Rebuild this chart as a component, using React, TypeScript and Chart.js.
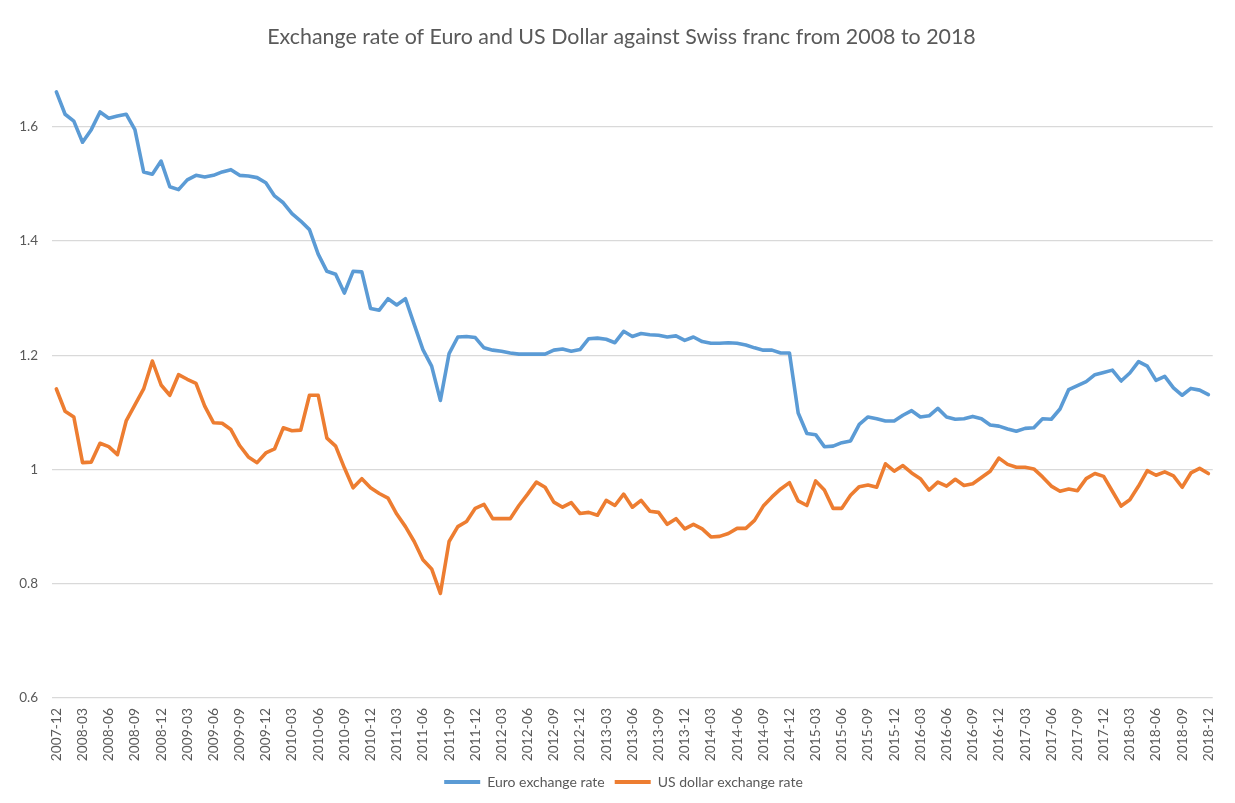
import React, { useEffect, useRef } from "react";
import { Chart, registerables } from "chart.js";

Chart.register(...registerables);

const title = "Exchange rate of Euro and US Dollar against Swiss franc from 2008 to 2018";

const months: string[] = [
  "2007-12",
  "2008-01", "2008-02", "2008-03", "2008-04", "2008-05", "2008-06", "2008-07", "2008-08", "2008-09", "2008-10", "2008-11", "2008-12",
  "2009-01", "2009-02", "2009-03", "2009-04", "2009-05", "2009-06", "2009-07", "2009-08", "2009-09", "2009-10", "2009-11", "2009-12",
  "2010-01", "2010-02", "2010-03", "2010-04", "2010-05", "2010-06", "2010-07", "2010-08", "2010-09", "2010-10", "2010-11", "2010-12",
  "2011-01", "2011-02", "2011-03", "2011-04", "2011-05", "2011-06", "2011-07", "2011-08", "2011-09", "2011-10", "2011-11", "2011-12",
  "2012-01", "2012-02", "2012-03", "2012-04", "2012-05", "2012-06", "2012-07", "2012-08", "2012-09", "2012-10", "2012-11", "2012-12",
  "2013-01", "2013-02", "2013-03", "2013-04", "2013-05", "2013-06", "2013-07", "2013-08", "2013-09", "2013-10", "2013-11", "2013-12",
  "2014-01", "2014-02", "2014-03", "2014-04", "2014-05", "2014-06", "2014-07", "2014-08", "2014-09", "2014-10", "2014-11", "2014-12",
  "2015-01", "2015-02", "2015-03", "2015-04", "2015-05", "2015-06", "2015-07", "2015-08", "2015-09", "2015-10", "2015-11", "2015-12",
  "2016-01", "2016-02", "2016-03", "2016-04", "2016-05", "2016-06", "2016-07", "2016-08", "2016-09", "2016-10", "2016-11", "2016-12",
  "2017-01", "2017-02", "2017-03", "2017-04", "2017-05", "2017-06", "2017-07", "2017-08", "2017-09", "2017-10", "2017-11", "2017-12",
  "2018-01", "2018-02", "2018-03", "2018-04", "2018-05", "2018-06", "2018-07", "2018-08", "2018-09", "2018-10", "2018-11", "2018-12",
];

const euroRate: number[] = [
  1.661,
  1.622, 1.610, 1.573, 1.595, 1.626, 1.615, 1.619, 1.622, 1.595, 1.521, 1.517, 1.540,
  1.495, 1.490, 1.507, 1.515, 1.512, 1.515, 1.521, 1.525, 1.515, 1.514, 1.511, 1.502,
  1.479, 1.467, 1.448, 1.435, 1.420, 1.377, 1.347, 1.342, 1.309, 1.347, 1.346, 1.282,
  1.279, 1.299, 1.288, 1.299, 1.254, 1.210, 1.181, 1.121, 1.203, 1.232, 1.233, 1.231,
  1.213, 1.209, 1.207, 1.204, 1.202, 1.202, 1.202, 1.202, 1.209, 1.211, 1.207, 1.210,
  1.229, 1.230, 1.228, 1.222, 1.242, 1.233, 1.238, 1.236, 1.235, 1.232, 1.234, 1.226,
  1.232, 1.224, 1.221, 1.221, 1.222, 1.221, 1.218, 1.213, 1.209, 1.209, 1.204, 1.204,
  1.099, 1.063, 1.061, 1.040, 1.041, 1.047, 1.050, 1.079, 1.092, 1.089, 1.085, 1.085,
  1.095, 1.103, 1.092, 1.094, 1.107, 1.092, 1.088, 1.089, 1.093, 1.089, 1.078, 1.076,
  1.071, 1.067, 1.072, 1.073, 1.089, 1.088, 1.106, 1.140, 1.147, 1.154, 1.166, 1.170,
  1.174, 1.155, 1.169, 1.189, 1.181, 1.156, 1.163, 1.143, 1.130, 1.142, 1.139, 1.131,
];

const usdRate: number[] = [
  1.141,
  1.102, 1.092, 1.012, 1.013, 1.046, 1.040, 1.026, 1.085, 1.113, 1.141, 1.190, 1.148,
  1.130, 1.166, 1.158, 1.151, 1.111, 1.082, 1.081, 1.070, 1.042, 1.022, 1.012, 1.029,
  1.036, 1.073, 1.068, 1.069, 1.130, 1.130, 1.055, 1.041, 1.003, 0.968, 0.984, 0.968,
  0.958, 0.950, 0.922, 0.900, 0.874, 0.842, 0.826, 0.783, 0.874, 0.900, 0.909, 0.932,
  0.939, 0.914, 0.914, 0.914, 0.937, 0.957, 0.978, 0.969, 0.943, 0.934, 0.942, 0.923,
  0.925, 0.920, 0.946, 0.937, 0.957, 0.934, 0.946, 0.927, 0.925, 0.904, 0.914, 0.896,
  0.904, 0.896, 0.882, 0.883, 0.888, 0.897, 0.897, 0.911, 0.936, 0.952, 0.966, 0.977,
  0.945, 0.937, 0.980, 0.964, 0.932, 0.932, 0.955, 0.970, 0.973, 0.969, 1.010, 0.997,
  1.007, 0.994, 0.984, 0.964, 0.978, 0.971, 0.983, 0.972, 0.975, 0.986, 0.997, 1.020,
  1.009, 1.004, 1.004, 1.001, 0.987, 0.971, 0.962, 0.966, 0.963, 0.984, 0.993, 0.988,
  0.962, 0.936, 0.947, 0.971, 0.998, 0.990, 0.996, 0.989, 0.969, 0.994, 1.002, 0.993,
];

const seriesNames: string[] = ["Euro exchange rate", "US dollar exchange rate"];
const yTicks: number[] = [0.6, 0.8, 1.0, 1.2, 1.4, 1.6];
const yMin = 0.6;
const yMax = 1.7;
const labelEvery = 3;

const FONT = "Lato, 'Noto Sans', sans-serif";
const GREY = "#595959";
const BLUE = "#5B9BD5";
const ORANGE = "#ED7D31";

// shifts title and legend horizontally to sit where the reference places them
const shiftBoxes = {
  id: "shiftBoxes",
  afterLayout(chart: any) {
    const t = chart.titleBlock;
    if (t) {
      t.left += 13;
      t.right += 13;
    }
    const l = chart.legend;
    if (l) {
      l.left += 15;
      l.right += 15;
    }
  },
};

export default function App() {
  const ref = useRef<HTMLCanvasElement | null>(null);

  useEffect(() => {
    document.body.style.margin = "0";
    const canvas = ref.current;
    if (!canvas) return;
    const chart = new Chart(canvas, {
      type: "line",
      data: {
        labels: months,
        datasets: [
          {
            label: seriesNames[0],
            data: euroRate,
            borderColor: BLUE,
            backgroundColor: BLUE,
            borderWidth: 3.6,
            pointRadius: 0,
            tension: 0,
            borderJoinStyle: "round",
            borderCapStyle: "round",
          },
          {
            label: seriesNames[1],
            data: usdRate,
            borderColor: ORANGE,
            backgroundColor: ORANGE,
            borderWidth: 3.6,
            pointRadius: 0,
            tension: 0,
            borderJoinStyle: "round",
            borderCapStyle: "round",
          },
        ],
      },
      options: {
        responsive: false,
        animation: false,
        devicePixelRatio: 1,
        layout: { padding: { left: 0, right: 18, top: 0, bottom: 4 } },
        plugins: {
          tooltip: { enabled: false },
          title: {
            display: true,
            text: title,
            color: GREY,
            font: { family: FONT, size: 21.4, weight: "normal" },
            padding: { top: 24, bottom: 20 },
          },
          legend: {
            position: "bottom",
            labels: {
              color: GREY,
              font: { family: FONT, size: 14 },
              boxWidth: 36,
              boxHeight: 4,
              padding: 10,
              generateLabels: (ch: any) =>
                ch.data.datasets.map((ds: any, i: number) => ({
                  text: ds.label,
                  fillStyle: ds.borderColor,
                  strokeStyle: ds.borderColor,
                  lineWidth: 0,
                  hidden: false,
                  datasetIndex: i,
                  fontColor: GREY,
                })),
            },
          },
        },
        scales: {
          x: {
            type: "category",
            offset: true,
            grid: { display: false, drawTicks: false },
            border: { display: false },
            afterFit: (scale: any) => {
              scale.height = 67;
            },
            ticks: {
              autoSkip: false,
              minRotation: 90,
              maxRotation: 90,
              padding: 10,
              color: GREY,
              font: { family: FONT, size: 13.8 },
              callback: (_v: any, i: number) => (i % labelEvery === 0 ? months[i] : ""),
            },
          },
          y: {
            min: yMin,
            max: yMax,
            afterBuildTicks: (scale: any) => {
              scale.ticks = yTicks.map((v) => ({ value: v }));
            },
            afterFit: (scale: any) => {
              scale.width = 52;
            },
            grid: { color: "#d9d9d9", lineWidth: 1.3, drawTicks: false },
            border: { display: false },
            ticks: {
              padding: 14,
              color: GREY,
              font: { family: FONT, size: 13.5 },
              callback: (v: any) => String(Math.round(Number(v) * 10) / 10),
            },
          },
        },
      },
      plugins: [shiftBoxes],
    });
    return () => chart.destroy();
  }, []);

  return (
    <div style={{ width: 1235, height: 803, background: "#fff" }}>
      <canvas ref={ref} width={1235} height={803} />
    </div>
  );
}
